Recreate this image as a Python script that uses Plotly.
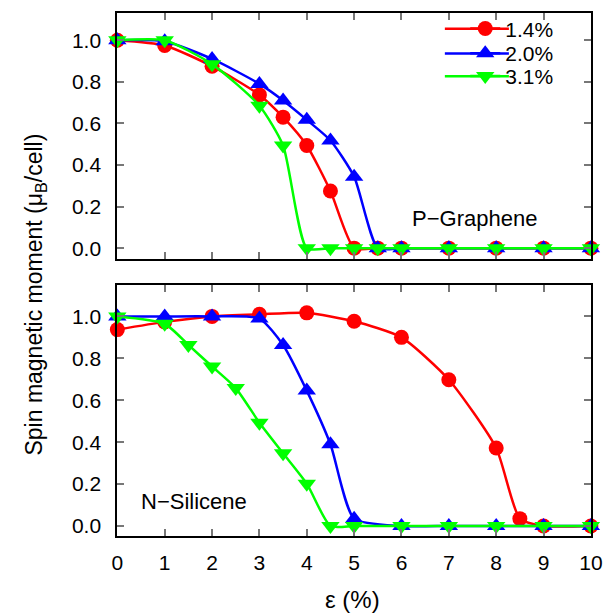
import plotly.graph_objects as go
from plotly.subplots import make_subplots

# ---- data: P-Graphene (top panel) ----
pg_x = [0, 1, 2, 3, 3.5, 4, 4.5, 5, 5.5, 6, 7, 8, 9, 10]
pg_14 = [1.0, 0.975, 0.875, 0.737, 0.63, 0.494, 0.275, 0.0, 0.0, 0.0, 0.0, 0.0, 0.0, 0.0]
pg_20 = [1.0, 0.995, 0.91, 0.79, 0.71, 0.617, 0.518, 0.344, 0.0, 0.0, 0.0, 0.0, 0.0, 0.0]
pg_31 = [1.0, 1.0, 0.885, 0.685, 0.494, 0.0, 0.0, 0.0, 0.0, 0.0, 0.0, 0.0, 0.0, 0.0]

# ---- data: N-Silicene (bottom panel) ----
ns_x14 = [0, 1, 2, 3, 4, 5, 6, 7, 8, 8.5, 9, 10]
ns_14 = [0.937, 0.974, 1.0, 1.01, 1.017, 0.977, 0.9, 0.698, 0.372, 0.035, 0.0, 0.0]
ns_x20 = [0, 1, 2, 3, 3.5, 4, 4.5, 5, 6, 7, 8, 9, 10]
ns_20 = [1.0, 1.0, 1.0, 0.99, 0.864, 0.646, 0.39, 0.035, 0.0, 0.0, 0.0, 0.0, 0.0]
ns_x31 = [0, 1, 1.5, 2, 2.5, 3, 3.5, 4, 4.5, 5, 6, 7, 8, 9, 10]
ns_31 = [1.0, 0.965, 0.864, 0.761, 0.658, 0.493, 0.347, 0.202, 0.0, 0.0, 0.0, 0.0, 0.0, 0.0, 0.0]

series_names = ["1.4%", "2.0%", "3.1%"]
colors = ["#ff0000", "#0000ff", "#00ff00"]
symbols = ["circle", "triangle-up", "triangle-down"]
msizes = [15, 16, 16]

x_ticks = list(range(0, 11))
y_ticks = [0.0, 0.2, 0.4, 0.6, 0.8, 1.0]
y_ticklabels = ["0.0", "0.2", "0.4", "0.6", "0.8", "1.0"]

FONT = "Liberation Sans, Arial, Helvetica, sans-serif"

# page has an 8px body margin: figure drawn 8px right/down inside the window
OFF = 8
W, H = 616 - OFF, 615 - OFF


def px(xs):
    return (xs - OFF) / W


def py(ys):
    return min(1.0, max(0.0, 1 - (ys - OFF) / H))


fig = make_subplots(rows=2, cols=1, shared_xaxes=False)

top_data = [(pg_x, pg_14), (pg_x, pg_20), (pg_x, pg_31)]
bot_data = [(ns_x14, ns_14), (ns_x20, ns_20), (ns_x31, ns_31)]
legend_ids = ["legend", "legend2", "legend3"]

for i in range(3):
    x, y = top_data[i]
    fig.add_trace(go.Scatter(
        x=x, y=y, name=series_names[i], mode="lines+markers",
        line=dict(color=colors[i], width=2.5, shape="spline", smoothing=0.6),
        marker=dict(symbol=symbols[i], size=msizes[i], color=colors[i]),
        cliponaxis=False, showlegend=True, legend=legend_ids[i]), row=1, col=1)
for i in range(3):
    x, y = bot_data[i]
    fig.add_trace(go.Scatter(
        x=x, y=y, name=series_names[i], mode="lines+markers",
        line=dict(color=colors[i], width=2.5, shape="spline", smoothing=0.6),
        marker=dict(symbol=symbols[i], size=msizes[i], color=colors[i]),
        cliponaxis=False, showlegend=False), row=2, col=1)

xdom = [px(114.5), px(602.5)]
# top frame: 8..256 px, value 0 at 245.5 px, 210 px per unit
top_dom = [py(256), py(8)]
bot_dom = [py(536.7), py(282.7)]

axis_common = dict(
    showline=True, linecolor="black", linewidth=2, mirror="allticks",
    ticks="inside", ticklen=7, tickwidth=1.5, tickcolor="#777777",
    showgrid=False, zeroline=False,
    tickfont=dict(family=FONT, size=21, color="black"),
)

fig.update_xaxes(domain=xdom, range=[0, 10], tickvals=x_ticks, **axis_common)
fig.update_xaxes(showticklabels=False, row=1, col=1)
fig.update_xaxes(ticklabelstandoff=6, row=2, col=1)
fig.update_yaxes(tickvals=y_ticks, ticktext=y_ticklabels,
                 ticklabelstandoff=10, **axis_common)
fig.update_yaxes(domain=top_dom, range=[-0.05, 1.131], row=1, col=1)
fig.update_yaxes(domain=bot_dom, range=[-0.05, 1.15], row=2, col=1)

# legend: one legend box per series, stacked in the top-right corner
legend_rows = [24, 49, 72]
leg_common = dict(xanchor="left", yanchor="middle", bgcolor="rgba(0,0,0,0)",
                  font=dict(family=FONT, size=21))

layout_legends = {}
for i, lid in enumerate(legend_ids):
    layout_legends[lid] = dict(x=px(473), y=py(legend_rows[i]), **leg_common)

# longer legend key lines (gnuplot style), behind the legend markers
key_shapes = []
for i in range(3):
    key_shapes.append(dict(type="line", xref="paper", yref="paper",
                           x0=px(452), x1=px(518), y0=py(legend_rows[i]), y1=py(legend_rows[i]),
                           line=dict(color=colors[i], width=2.5), layer="above"))

fig.update_layout(
    width=W, height=H,
    margin=dict(l=0, r=0, t=0, b=0),
    paper_bgcolor="white", plot_bgcolor="white",
    font=dict(family=FONT, size=21, color="black"),
    shapes=key_shapes,
    **layout_legends,
    annotations=[
        dict(text="P\u2212Graphene", x=px(483), y=py(216), xref="paper", yref="paper",
             xanchor="center", yanchor="middle",
             showarrow=False, font=dict(family=FONT, size=22)),
        dict(text="N\u2212Silicene", x=px(193), y=py(501), xref="paper", yref="paper",
             xanchor="center", yanchor="middle",
             showarrow=False, font=dict(family=FONT, size=22)),
        dict(text="Spin magnetic moment (\u03bc<sub>B</sub>/cell)", x=px(30), y=py(292),
             xref="paper", yref="paper", xanchor="center", yanchor="middle",
             showarrow=False, textangle=-90,
             font=dict(family=FONT, size=23)),
        dict(text="\u03b5 (%)", x=px(357), y=py(600), xref="paper", yref="paper",
             xanchor="center", yanchor="middle",
             showarrow=False, font=dict(family=FONT, size=24)),
    ],
)

fig.write_html("out.html")
